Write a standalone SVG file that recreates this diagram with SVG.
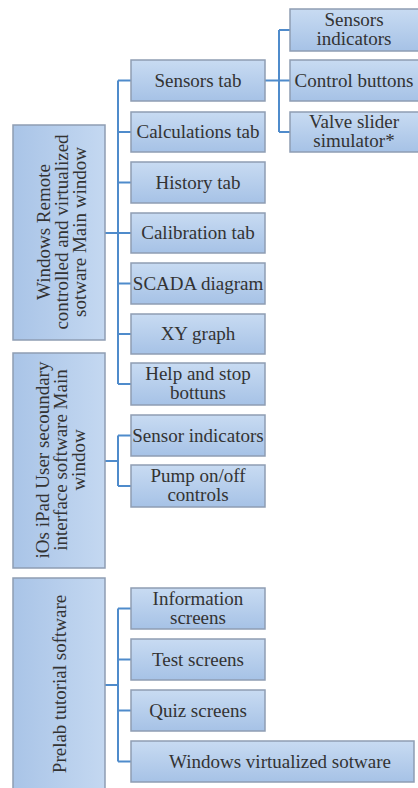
<svg xmlns="http://www.w3.org/2000/svg" width="418" height="788" viewBox="0 0 418 788">
<defs>
<linearGradient id="bg" x1="0" y1="0" x2="0" y2="1">
<stop offset="0" stop-color="#c8dbf2"/>
<stop offset="1" stop-color="#a6c2e6"/>
</linearGradient>
<linearGradient id="bgh" x1="0" y1="0" x2="1" y2="0">
<stop offset="0" stop-color="#a9c4e7"/>
<stop offset="1" stop-color="#c4d8f1"/>
</linearGradient>
</defs>
<style>
.box{fill:url(#bg);stroke:#8e9db3;stroke-width:1.5}
.vbox{fill:url(#bgh);stroke:#8e9db3;stroke-width:1.5}
.t{font-family:"Liberation Serif","Times New Roman",serif;font-size:19px;fill:#333;text-anchor:middle}
.c{fill:none;stroke:#4f8bcb;stroke-width:2}
</style>
<rect width="418" height="788" fill="#ffffff"/>
<g id="connectors">
<path class="c" d="M105 233H118M118 80.5V384M118 80.5H131M118 132H131M118 182.5H131M118 233H131M118 283.5H131M118 334H131M118 384H131"/>
<path class="c" d="M265 80.5H279M279 30V132M279 30H290M279 80.5H290M279 132H290"/>
<path class="c" d="M105 461H118M118 435.5V486M118 435.5H131M118 486H131"/>
<path class="c" d="M105 685H118M118 608.5V761.5M118 608.5H131M118 659.5H131M118 710.5H131M118 761.5H131"/>
</g>
<g id="n-windows">
<rect class="vbox" x="13" y="125" width="92" height="215"/>
<g transform="translate(59 232) rotate(-90)">
<text class="t" x="0" y="-9">Windows Remote</text>
<text class="t" x="0" y="9">controlled and virtualized</text>
<text class="t" x="0" y="27">sotware Main window</text>
</g>
</g>
<g id="n-ios">
<rect class="vbox" x="13" y="353" width="92" height="215"/>
<g transform="translate(59 460) rotate(-90)">
<text class="t" x="0" y="-10">iOs iPad User secoundary</text>
<text class="t" x="0" y="8">interface software Main</text>
<text class="t" x="0" y="26">window</text>
</g>
</g>
<g id="n-prelab">
<rect class="vbox" x="13" y="578" width="92" height="220"/>
<g transform="translate(59 684) rotate(-90)">
<text class="t" x="0" y="7">Prelab tutorial software</text>
</g>
</g>
<g id="n-sensors-tab"><rect class="box" x="131" y="60" width="134" height="41"/><text class="t" x="198" y="87">Sensors tab</text></g>
<g id="n-calc-tab"><rect class="box" x="131" y="112" width="134" height="40"/><text class="t" x="198" y="138">Calculations tab</text></g>
<g id="n-history-tab"><rect class="box" x="131" y="162" width="134" height="41"/><text class="t" x="198" y="189">History tab</text></g>
<g id="n-calib-tab"><rect class="box" x="131" y="213" width="134" height="40"/><text class="t" x="198" y="239">Calibration tab</text></g>
<g id="n-scada"><rect class="box" x="131" y="263" width="134" height="41"/><text class="t" x="198" y="290">SCADA diagram</text></g>
<g id="n-xy"><rect class="box" x="131" y="314" width="134" height="40"/><text class="t" x="198" y="340">XY graph</text></g>
<g id="n-help"><rect class="box" x="131" y="363" width="134" height="42"/><text class="t" x="198" y="380">Help and stop</text><text class="t" x="198" y="399">bottuns</text></g>
<g id="n-sensor-ind"><rect class="box" x="131" y="415" width="134" height="41"/><text class="t" x="198" y="442">Sensor indicators</text></g>
<g id="n-pump"><rect class="box" x="131" y="465" width="134" height="42"/><text class="t" x="198" y="482">Pump on/off</text><text class="t" x="198" y="501">controls</text></g>
<g id="n-info"><rect class="box" x="131" y="588" width="134" height="41"/><text class="t" x="198" y="605">Information</text><text class="t" x="198" y="624">screens</text></g>
<g id="n-test"><rect class="box" x="131" y="639" width="134" height="41"/><text class="t" x="198" y="666">Test screens</text></g>
<g id="n-quiz"><rect class="box" x="131" y="690" width="134" height="41"/><text class="t" x="198" y="717">Quiz screens</text></g>
<g id="n-winvirt"><rect class="box" x="131" y="741" width="283" height="41"/><text class="t" x="280" y="768">Windows virtualized sotware</text></g>
<g id="n-sensors-ind"><rect class="box" x="290" y="9" width="130" height="42"/><text class="t" x="354" y="26">Sensors</text><text class="t" x="354" y="45">indicators</text></g>
<g id="n-control"><rect class="box" x="290" y="60" width="130" height="41"/><text class="t" x="354" y="87">Control buttons</text></g>
<g id="n-valve"><rect class="box" x="290" y="112" width="130" height="40"/><text class="t" x="354" y="128">Valve slider</text><text class="t" x="354" y="147">simulator*</text></g>
</svg>
